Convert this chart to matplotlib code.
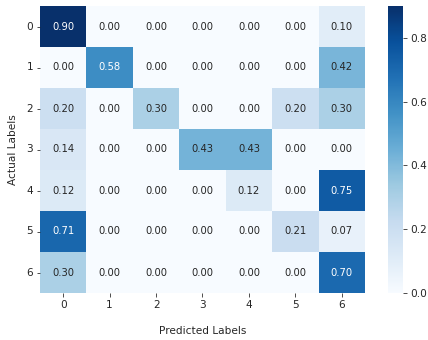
import numpy as np
import matplotlib
matplotlib.use("Agg")
import matplotlib.pyplot as plt
import seaborn as sns

# normalized confusion matrix, rows = actual, columns = predicted
class_labels = ["0", "1", "2", "3", "4", "5", "6"]
row_0 = [0.90, 0.00, 0.00, 0.00, 0.00, 0.00, 0.10]
row_1 = [0.00, 0.58, 0.00, 0.00, 0.00, 0.00, 0.42]
row_2 = [0.20, 0.00, 0.30, 0.00, 0.00, 0.20, 0.30]
row_3 = [0.14, 0.00, 0.00, 0.43, 0.43, 0.00, 0.00]
row_4 = [0.12, 0.00, 0.00, 0.00, 0.12, 0.00, 0.75]
row_5 = [0.71, 0.00, 0.00, 0.00, 0.00, 0.21, 0.07]
row_6 = [0.30, 0.00, 0.00, 0.00, 0.00, 0.00, 0.70]

cm = np.array([row_0, row_1, row_2, row_3, row_4, row_5, row_6])

plt.rcParams["font.family"] = "DejaVu Sans"
plt.rcParams["font.size"] = 10

fig = plt.figure(figsize=(428 / 72, 340 / 72), dpi=72)
ax = fig.add_axes([40 / 428, 1 - 293 / 340, 325 / 428, 287 / 340])
cax = fig.add_axes([388 / 428, 1 - 293 / 340, 15 / 428, 287 / 340])

sns.heatmap(
    cm,
    annot=True,
    fmt=".2f",
    cmap="Blues",
    xticklabels=class_labels,
    yticklabels=class_labels,
    ax=ax,
    cbar_ax=cax,
)

ax.set_xlabel("Predicted Labels", labelpad=16, color="0.15", fontsize=10.5)
ax.set_ylabel("Actual Labels", labelpad=8, color="0.15", fontsize=10.5)
ax.tick_params(axis="both", colors="0.15", labelcolor="0.15", labelsize=10.5)
ax.tick_params(axis="y", rotation=0)
cax.tick_params(colors="0.15", labelcolor="0.15", labelsize=10.5)
cax.set_yticks([0.0, 0.2, 0.4, 0.6, 0.8])

fig.savefig("out.png", dpi=72)
